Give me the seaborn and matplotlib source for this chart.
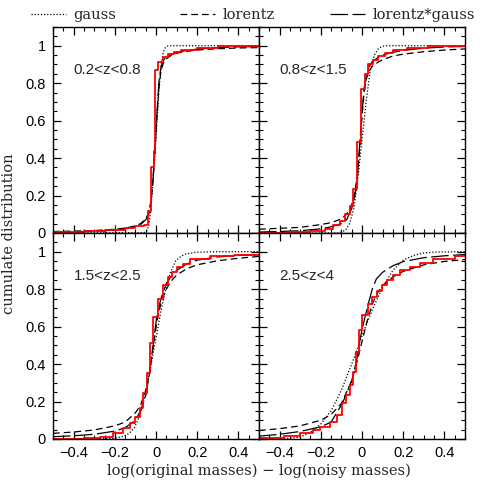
import numpy as np
import pandas as pd
import matplotlib
matplotlib.use("Agg")
import matplotlib.pyplot as plt
import seaborn as sns
from matplotlib.ticker import MultipleLocator, FuncFormatter
from matplotlib.lines import Line2D

# ---------------- data ----------------
panel_labels = ["0.2<z<0.8", "0.8<z<1.5", "1.5<z<2.5", "2.5<z<4"]
legend_labels = ["gauss", "lorentz", "lorentz*gauss"]
x_label = "log(original masses) \u2212 log(noisy masses)"
y_label = "cumulate distribution"

# panel 1 : 0.2<z<0.8
p1_step_x = [-0.5, -0.35, -0.25, -0.15, -0.1, -0.057, -0.04, -0.025, -0.012, -0.003, 0.012, 0.032, 0.057, 0.089, 0.121, 0.2, 0.3, 0.5]
p1_step_y = [0.003, 0.008, 0.015, 0.025, 0.035, 0.045, 0.12, 0.35, 0.44, 0.87, 0.914, 0.94, 0.955, 0.965, 0.975, 0.99, 1.0, 1.0]
p1_gauss_x = [-0.5, -0.06, -0.045, -0.035, -0.025, -0.015, -0.005, 0.005, 0.015, 0.025, 0.035, 0.045, 0.06, 0.5]
p1_gauss_y = [0.0, 0.002, 0.01, 0.04, 0.12, 0.27, 0.42, 0.6, 0.77, 0.9, 0.965, 0.99, 1.0, 1.0]
p1_lor_x = [-0.5, -0.4, -0.3, -0.2, -0.15, -0.1, -0.075, -0.05, -0.035, -0.025, -0.015, -0.005, 0.005, 0.015, 0.025, 0.035, 0.05, 0.075, 0.1, 0.15, 0.2, 0.3, 0.4, 0.5]
p1_lor_y = [0.008, 0.01, 0.013, 0.02, 0.026, 0.038, 0.05, 0.075, 0.11, 0.17, 0.28, 0.44, 0.63, 0.79, 0.87, 0.905, 0.93, 0.95, 0.96, 0.97, 0.977, 0.984, 0.988, 0.99]
p1_lg_x = p1_lor_x
p1_lg_y = [0.004, 0.006, 0.009, 0.016, 0.022, 0.033, 0.045, 0.07, 0.1, 0.16, 0.28, 0.45, 0.65, 0.82, 0.89, 0.92, 0.94, 0.955, 0.965, 0.975, 0.982, 0.99, 0.994, 0.996]

# panel 2 : 0.8<z<1.5
p2_step_x = [-0.5, -0.35, -0.25, -0.18, -0.14, -0.107, -0.083, -0.058, -0.042, -0.026, -0.005, 0.015, 0.031, 0.055, 0.079, 0.11, 0.15, 0.22, 0.32, 0.5]
p2_step_y = [0.0, 0.005, 0.012, 0.022, 0.04, 0.066, 0.1, 0.146, 0.236, 0.486, 0.77, 0.85, 0.905, 0.923, 0.945, 0.96, 0.975, 0.99, 1.0, 1.0]
p2_gauss_x = [-0.5, -0.12, -0.1, -0.08, -0.06, -0.04, -0.02, 0.0, 0.02, 0.04, 0.06, 0.08, 0.1, 0.12, 0.5]
p2_gauss_y = [0.0, 0.0, 0.005, 0.015, 0.05, 0.13, 0.29, 0.5, 0.7, 0.87, 0.95, 0.985, 0.997, 1.0, 1.0]
p2_lor_x = [-0.5, -0.4, -0.3, -0.2, -0.15, -0.1, -0.075, -0.05, -0.035, -0.02, -0.01, 0.0, 0.01, 0.02, 0.035, 0.05, 0.075, 0.1, 0.15, 0.2, 0.3, 0.4, 0.5]
p2_lor_y = [0.02, 0.025, 0.03, 0.045, 0.055, 0.075, 0.1, 0.15, 0.21, 0.33, 0.47, 0.62, 0.75, 0.82, 0.865, 0.89, 0.91, 0.925, 0.945, 0.955, 0.968, 0.977, 0.983]
p2_lg_x = p2_lor_x
p2_lg_y = [0.005, 0.008, 0.012, 0.022, 0.033, 0.05, 0.07, 0.13, 0.2, 0.33, 0.49, 0.64, 0.77, 0.845, 0.89, 0.915, 0.935, 0.95, 0.965, 0.975, 0.987, 0.993, 0.997]

# panel 3 : 1.5<z<2.5
p3_step_x = [-0.5, -0.35, -0.27, -0.207, -0.159, -0.126, -0.102, -0.078, -0.061, -0.045, -0.029, -0.013, 0.011, 0.036, 0.06, 0.076, 0.1, 0.133, 0.165, 0.26, 0.38, 0.5]
p3_step_y = [0.0, 0.004, 0.012, 0.03, 0.057, 0.083, 0.119, 0.163, 0.243, 0.35, 0.51, 0.65, 0.75, 0.82, 0.865, 0.89, 0.916, 0.935, 0.96, 0.975, 0.985, 0.985]
p3_gauss_x = [-0.5, -0.205, -0.155, -0.13, -0.105, -0.08, -0.055, -0.03, -0.005, 0.02, 0.045, 0.07, 0.095, 0.12, 0.145, 0.195, 0.3, 0.5]
p3_gauss_y = [0.0, 0.003, 0.015, 0.03, 0.06, 0.12, 0.22, 0.36, 0.51, 0.66, 0.79, 0.89, 0.95, 0.975, 0.988, 0.997, 1.0, 1.0]
p3_lor_x = [-0.5, -0.4, -0.3, -0.2, -0.15, -0.1, -0.075, -0.05, -0.03, -0.013, 0.005, 0.025, 0.05, 0.075, 0.1, 0.15, 0.2, 0.3, 0.4, 0.5]
p3_lor_y = [0.03, 0.037, 0.048, 0.07, 0.09, 0.14, 0.18, 0.26, 0.36, 0.5, 0.63, 0.73, 0.8, 0.845, 0.875, 0.91, 0.93, 0.952, 0.965, 0.975]
p3_lg_x = [-0.5, -0.4, -0.3, -0.2, -0.15, -0.1, -0.075, -0.048, -0.032, -0.013, 0.003, 0.024, 0.05, 0.075, 0.1, 0.15, 0.2, 0.3, 0.4, 0.5]
p3_lg_y = [0.012, 0.017, 0.025, 0.042, 0.06, 0.1, 0.15, 0.24, 0.35, 0.51, 0.65, 0.75, 0.83, 0.87, 0.9, 0.935, 0.955, 0.972, 0.98, 0.985]

# panel 4 : 2.5<z<4
p4_step_x = [-0.5, -0.38, -0.3, -0.236, -0.204, -0.155, -0.123, -0.099, -0.078, -0.06, -0.042, -0.029, -0.013, 0.002, 0.03, 0.047, 0.071, 0.096, 0.12, 0.152, 0.184, 0.233, 0.282, 0.346, 0.45, 0.5]
p4_step_y = [0.005, 0.015, 0.03, 0.05, 0.065, 0.092, 0.128, 0.19, 0.234, 0.287, 0.358, 0.465, 0.58, 0.66, 0.72, 0.76, 0.79, 0.82, 0.85, 0.875, 0.9, 0.92, 0.94, 0.96, 0.975, 0.975]
p4_gauss_x = [-0.5, -0.35, -0.3, -0.25, -0.2, -0.15, -0.1, -0.05, 0.0, 0.05, 0.1, 0.15, 0.2, 0.25, 0.3, 0.35, 0.5]
p4_gauss_y = [0.0, 0.003, 0.01, 0.035, 0.08, 0.15, 0.26, 0.4, 0.55, 0.69, 0.81, 0.9, 0.955, 0.98, 0.993, 0.998, 1.0]
p4_lor_x = [-0.5, -0.4, -0.3, -0.2, -0.15, -0.1, -0.05, -0.02, 0.0, 0.025, 0.05, 0.075, 0.1, 0.15, 0.2, 0.3, 0.4, 0.5]
p4_lor_y = [0.045, 0.055, 0.07, 0.1, 0.13, 0.19, 0.31, 0.43, 0.52, 0.63, 0.72, 0.78, 0.82, 0.865, 0.895, 0.93, 0.948, 0.958]
p4_lg_x = [-0.5, -0.4, -0.3, -0.2, -0.15, -0.095, -0.05, -0.026, -0.01, 0.01, 0.03, 0.05, 0.07, 0.1, 0.15, 0.2, 0.3, 0.4, 0.5]
p4_lg_y = [0.015, 0.025, 0.04, 0.065, 0.09, 0.19, 0.31, 0.42, 0.53, 0.63, 0.72, 0.8, 0.855, 0.89, 0.925, 0.947, 0.968, 0.978, 0.985]

panels = [
    (p1_step_x, p1_step_y, p1_gauss_x, p1_gauss_y, p1_lor_x, p1_lor_y, p1_lg_x, p1_lg_y),
    (p2_step_x, p2_step_y, p2_gauss_x, p2_gauss_y, p2_lor_x, p2_lor_y, p2_lg_x, p2_lg_y),
    (p3_step_x, p3_step_y, p3_gauss_x, p3_gauss_y, p3_lor_x, p3_lor_y, p3_lg_x, p3_lg_y),
    (p4_step_x, p4_step_y, p4_gauss_x, p4_gauss_y, p4_lor_x, p4_lor_y, p4_lg_x, p4_lg_y),
]

# ---------------- style ----------------
sns.set_theme(style="ticks", rc={
    "axes.edgecolor": "black", "axes.linewidth": 1.0,
    "xtick.color": "black", "ytick.color": "black",
    "xtick.direction": "in", "ytick.direction": "in",
    "xtick.top": True, "ytick.right": True,
    "xtick.major.size": 5.5, "ytick.major.size": 5.5,
    "xtick.minor.size": 3.0, "ytick.minor.size": 3.0,
    "xtick.major.width": 0.9, "ytick.major.width": 0.9,
    "xtick.minor.width": 0.8, "ytick.minor.width": 0.8,
})
plt.rcParams["font.family"] = ["Liberation Sans", "DejaVu Sans"]
serif = ["DejaVu Serif"]

DOT = (0, (1, 1.5))
DASH = (0, (5.4, 3.2))
LDASH = (0, (14, 3.6))

fig, axes = plt.subplots(2, 2, figsize=(4.91, 4.91), dpi=100, sharex=True, sharey=True)
fig.subplots_adjust(left=0.108, right=0.947, bottom=0.106, top=0.945, wspace=0, hspace=0)

fmt = FuncFormatter(lambda v, p: f"{v:g}".replace("-", "\u2212"))

for ax, label, pdata in zip(axes.flat, panel_labels, panels):
    sx, sy, gx, gy, lx, ly, lgx, lgy = pdata
    sns.lineplot(x=gx, y=gy, ax=ax, color="black", lw=0.9, linestyle=DOT)
    sns.lineplot(x=lx, y=ly, ax=ax, color="black", lw=0.9, linestyle=DASH)
    sns.lineplot(x=lgx, y=lgy, ax=ax, color="black", lw=0.9, linestyle=LDASH)
    sns.lineplot(x=sx, y=sy, ax=ax, color="red", lw=1.3, drawstyle="steps-post")
    ax.set_xlim(-0.5, 0.5)
    ax.set_ylim(0, 1.1)
    ax.xaxis.set_major_locator(MultipleLocator(0.2))
    ax.xaxis.set_minor_locator(MultipleLocator(0.05))
    ax.yaxis.set_major_locator(MultipleLocator(0.2))
    ax.yaxis.set_minor_locator(MultipleLocator(0.05))
    ax.xaxis.set_major_formatter(fmt)
    ax.yaxis.set_major_formatter(fmt)
    ax.tick_params(which="both", top=True, right=True, direction="in", labelsize=10.5, pad=5)
    ax.set_xlabel("")
    ax.set_ylabel("")
    ax.text(-0.4, 0.87, label, fontsize=11, ha="left", va="center")

fig.text(0.527, 0.042, x_label, ha="center", va="center", fontsize=10.5, family=serif)
fig.text(0.018, 0.525, y_label, ha="center", va="center", rotation=90, fontsize=10.5, family=serif)

styles = [DOT, DASH, LDASH]
xpos = [0.063, 0.367, 0.672]
for lab, st, xp in zip(legend_labels, styles, xpos):
    h = Line2D([], [], color="black", lw=0.9, linestyle=st)
    fig.legend([h], [lab], loc="center left", bbox_to_anchor=(xp, 0.969),
               frameon=False, borderaxespad=0, borderpad=0, handlelength=2.4,
               handletextpad=0.5, prop={"family": serif, "size": 10.5})

fig.savefig("out.png", dpi=100)
